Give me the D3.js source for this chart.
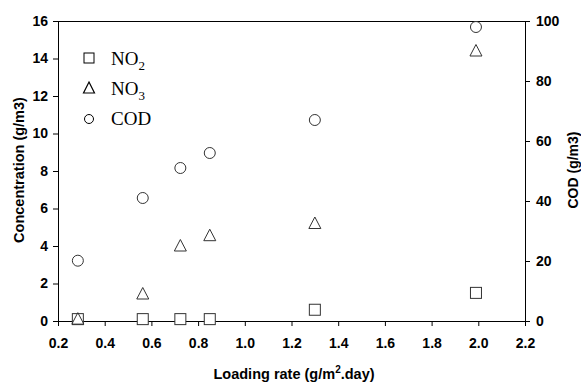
<!DOCTYPE html>
<html>
<head>
<meta charset="utf-8">
<script src="https://cdn.jsdelivr.net/npm/d3@7"></script>
<style>
html,body{margin:0;padding:0;background:#fff;}
svg{display:block;}
.tick text{font-family:"Liberation Sans",Arial,sans-serif;font-weight:bold;font-size:14px;fill:#000;}
</style>
</head>
<body>
<svg id="chart" width="581" height="383"></svg>
<script>
const loadingRate = [0.285, 0.563, 0.724, 0.85, 1.30, 1.99];
const no2 = [0.1, 0.1, 0.1, 0.1, 0.6, 1.5];
const no3 = [0.1, 1.44, 4.0, 4.55, 5.2, 14.4];
const cod = [20.1, 41.0, 51.0, 56.0, 67.0, 98.0];
const xTicks = [0.2, 0.4, 0.6, 0.8, 1.0, 1.2, 1.4, 1.6, 1.8, 2.0, 2.2];
const yLeftTicks = [0, 2, 4, 6, 8, 10, 12, 14, 16];
const yRightTicks = [0, 20, 40, 60, 80, 100];

const svg = d3.select("#chart");
const L = 58, R = 525, T = 21, B = 321;
const x = d3.scaleLinear().domain([0.2, 2.2]).range([L, R]);
const yL = d3.scaleLinear().domain([0, 16]).range([B, T]);
const yR = d3.scaleLinear().domain([0, 100]).range([B, T]);

// top border
svg.append("line").attr("x1", L).attr("x2", R).attr("y1", T + 0.5).attr("y2", T + 0.5)
  .attr("stroke", "#000").attr("stroke-width", 1);

const gx = svg.append("g").attr("transform", `translate(0,${B})`)
  .call(d3.axisBottom(x).tickValues(xTicks).tickFormat(d3.format(".1f")).tickSizeOuter(0).tickSize(5).tickPadding(12));
const gl = svg.append("g").attr("transform", `translate(${L},0)`)
  .call(d3.axisLeft(yL).tickValues(yLeftTicks).tickSizeOuter(0).tickSize(5).tickPadding(5));
const gr = svg.append("g").attr("transform", `translate(${R},0)`)
  .call(d3.axisRight(yR).tickValues(yRightTicks).tickSizeOuter(0).tickSize(5).tickPadding(6));
[gx, gl, gr].forEach(g => {
  g.selectAll("path.domain").attr("stroke", "#000").attr("stroke-width", 1);
  g.selectAll(".tick line").attr("stroke", "#000");
});

const mk = "#333";
// NO2 squares
svg.append("g").selectAll("rect").data(loadingRate).join("rect")
  .attr("x", (d) => x(d) - 5.5).attr("y", (d, i) => yL(no2[i]) - 5.5)
  .attr("width", 11).attr("height", 11)
  .attr("fill", "#fff").attr("stroke", mk).attr("stroke-width", 1);
// NO3 triangles
const tri = (cx, cy) => `M${cx},${cy - 6.5}L${cx + 6},${cy + 5}L${cx - 6},${cy + 5}Z`;
svg.append("g").selectAll("path").data(loadingRate).join("path")
  .attr("d", (d, i) => tri(x(d), yL(no3[i])))
  .attr("fill", "none").attr("stroke", mk).attr("stroke-width", 1);
// COD circles
svg.append("g").selectAll("circle").data(loadingRate).join("circle")
  .attr("cx", (d) => x(d)).attr("cy", (d, i) => yR(cod[i])).attr("r", 5.5)
  .attr("fill", "#fff").attr("stroke", mk).attr("stroke-width", 1);

// legend
const legendItems = [
  {name: "NO", sub: "2", shape: "square"},
  {name: "NO", sub: "3", shape: "triangle"},
  {name: "COD", sub: "", shape: "circle"}
];
const lg = svg.append("g");
legendItems.forEach((it, i) => {
  const cy = 58 + i * 30;
  const cx = 89;
  if (it.shape === "square") {
    lg.append("rect").attr("x", cx - 5).attr("y", cy - 5).attr("width", 10).attr("height", 10)
      .attr("fill", "none").attr("stroke", "#000").attr("stroke-width", 1);
  } else if (it.shape === "triangle") {
    lg.append("path").attr("d", `M${cx},${cy - 6}L${cx + 5.5},${cy + 5}L${cx - 5.5},${cy + 5}Z`)
      .attr("fill", "none").attr("stroke", "#000").attr("stroke-width", 1.2);
  } else {
    lg.append("circle").attr("cx", cx).attr("cy", cy + 1).attr("r", 4.5)
      .attr("fill", "none").attr("stroke", "#000").attr("stroke-width", 1);
  }
  const t = lg.append("text").attr("x", 111).attr("y", cy + 7)
    .attr("font-family", "'Liberation Serif','Times New Roman',serif").attr("font-size", 19).attr("fill", "#000");
  t.append("tspan").text(it.name);
  if (it.sub) t.append("tspan").attr("dy", 5).attr("font-size", 13).text(it.sub);
});

// axis titles
const titleFont = "'Liberation Sans',Arial,sans-serif";
const xt = svg.append("text").attr("x", 294).attr("y", 379).attr("text-anchor", "middle")
  .attr("font-family", titleFont).attr("font-weight", "bold").attr("font-size", 14.5).attr("fill", "#000");
xt.append("tspan").text("Loading rate (g/m");
xt.append("tspan").attr("dy", -6).attr("font-size", 10).text("2");
xt.append("tspan").attr("dy", 6).text(".day)");

svg.append("text").attr("transform", "translate(24,170) rotate(-90)").attr("text-anchor", "middle")
  .attr("font-family", titleFont).attr("font-weight", "bold").attr("font-size", 14.5).attr("fill", "#000")
  .text("Concentration (g/m3)");
svg.append("text").attr("transform", "translate(578,170) rotate(-90)").attr("text-anchor", "middle")
  .attr("font-family", titleFont).attr("font-weight", "bold").attr("font-size", 14).attr("fill", "#000")
  .text("COD (g/m3)");
</script>
</body>
</html>
